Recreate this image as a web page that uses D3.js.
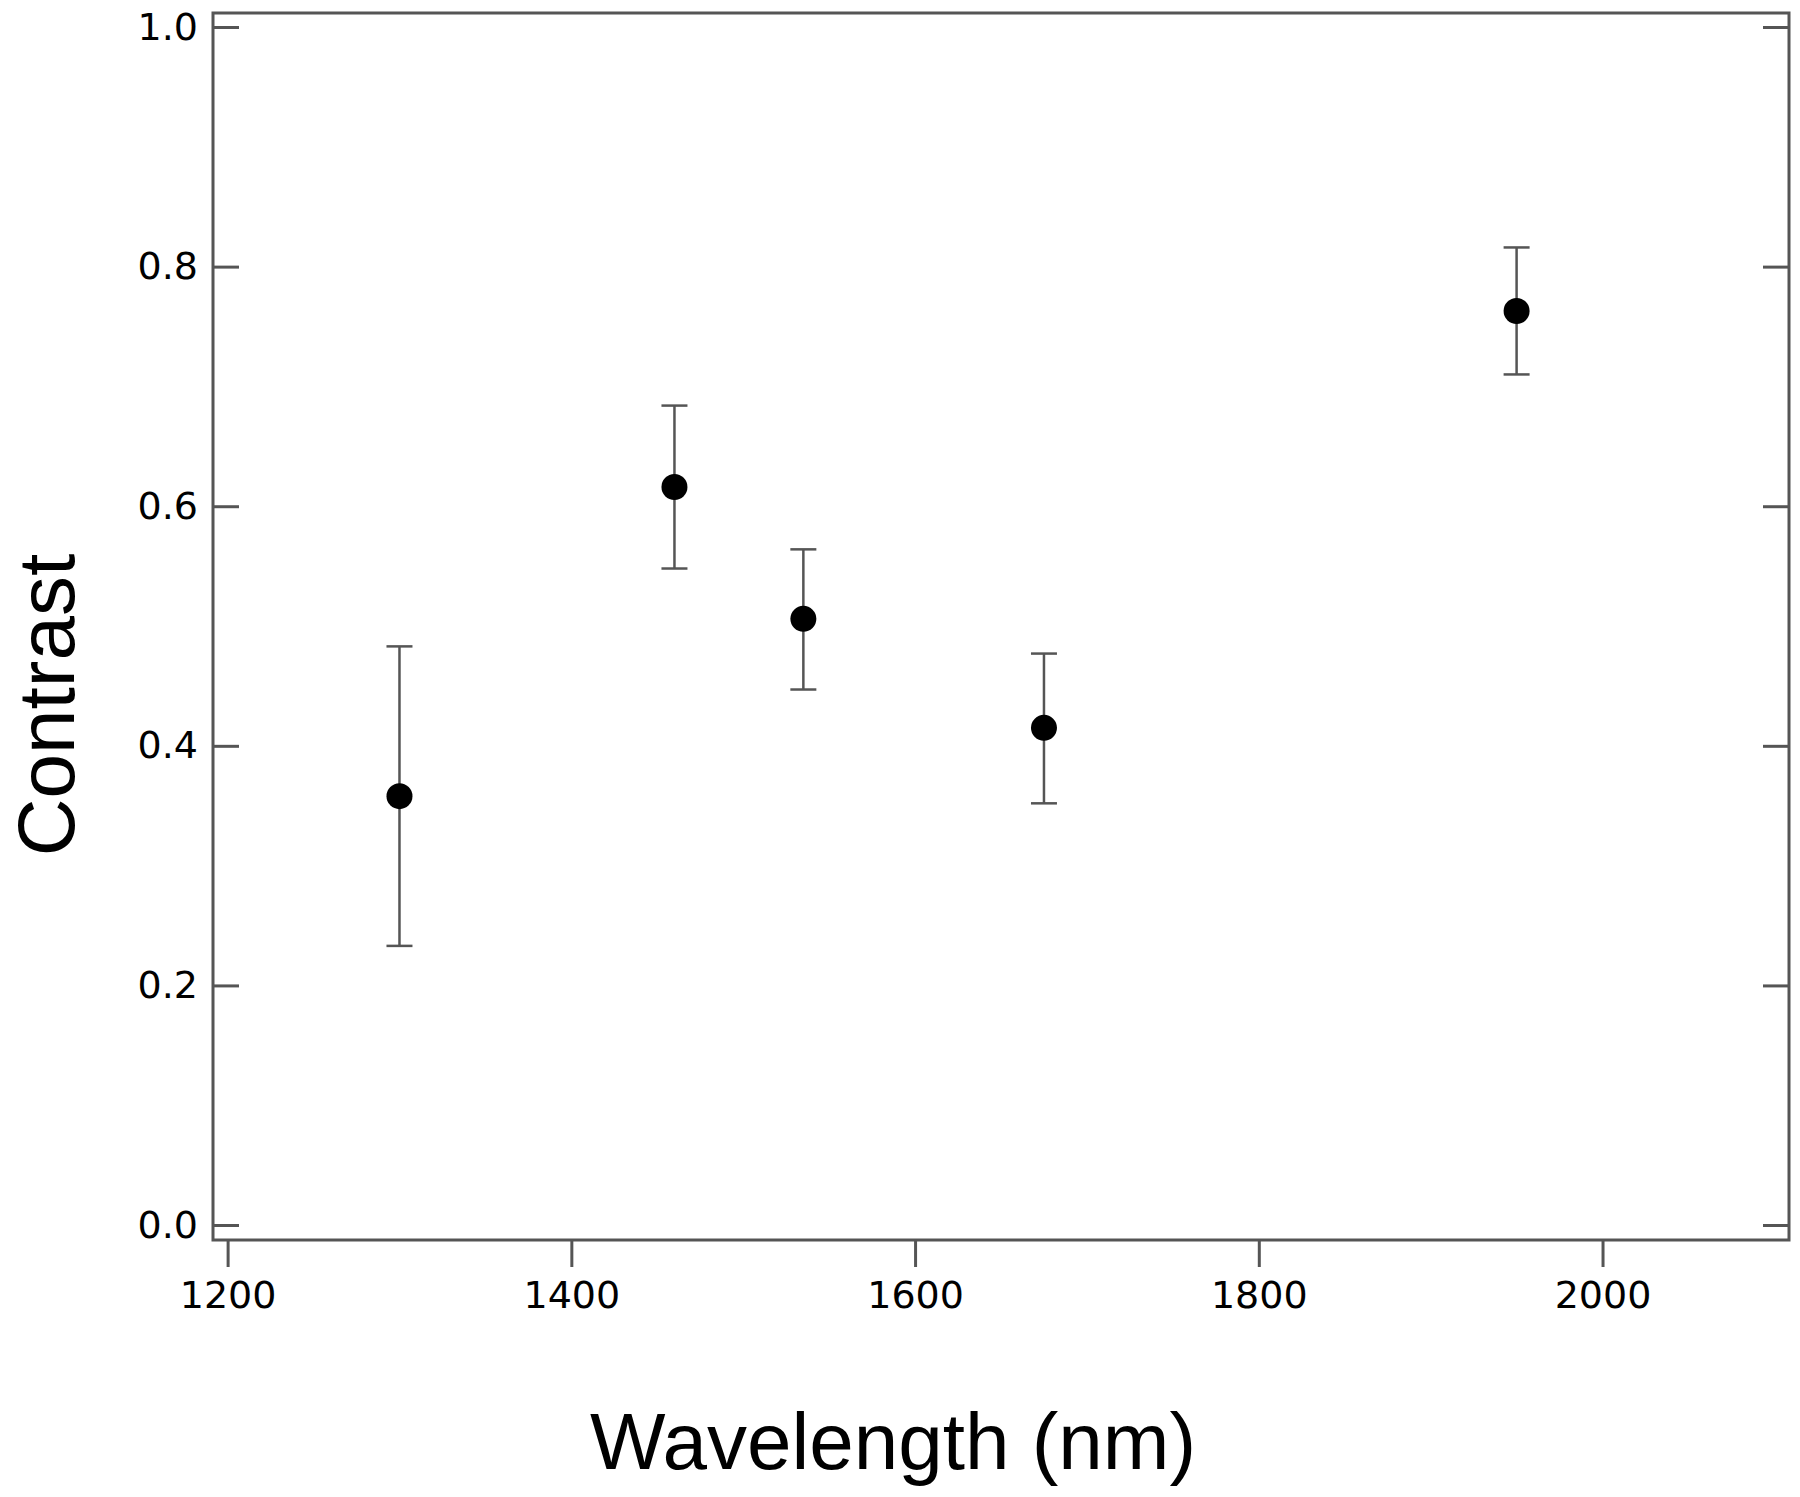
<!doctype html>
<html>
<head>
	<meta charset="utf-8">
	<title>contrast</title>
	<script src="https://cdn.jsdelivr.net/npm/d3@7"></script>
	<style>
		body { margin: 0; background: #fff; }
		.axis path, .axis line { stroke: #555; stroke-width: 3; }
		.axis text { font-family: "DejaVu Sans", sans-serif; font-size: 38px; fill: #000; }
		.title { font-family: "Liberation Sans", Arial, sans-serif; font-size: 80px; fill: #000; }
	</style>
</head>
<body>
<script>
	// data
	var wavelength = [1300, 1460, 1535, 1675, 1950]
	var contrast = [0.358, 0.616, 0.506, 0.415, 0.763]
	var errHigh = [0.483, 0.684, 0.564, 0.477, 0.816]
	var errLow = [0.233, 0.548, 0.447, 0.352, 0.710]
	var xTicks = [1200, 1400, 1600, 1800, 2000]
	var yTicks = [0.0, 0.2, 0.4, 0.6, 0.8, 1.0]

	var width = 1800
	var height = 1497
	// plot frame (window.top is reserved, so no plain "top")
	var plotLeft = 213, plotRight = 1789, plotTop = 13, plotBottom = 1240

	var svg = d3.select("body")
		.append("svg")
		.attr("width", width)
		.attr("height", height)

	var x = d3.scaleLinear()
		.domain([1191.5, 2108.5])
		.range([plotLeft, plotRight])
	var y = d3.scaleLinear()
		.domain([-0.0125, 1.0117])
		.range([plotBottom, plotTop])

	// frame
	svg.append("rect")
		.attr("x", plotLeft)
		.attr("y", plotTop)
		.attr("width", plotRight - plotLeft)
		.attr("height", plotBottom - plotTop)
		.attr("fill", "none")
		.attr("stroke", "#555")
		.attr("stroke-width", 3)

	var yAxis = svg.append("g")
		.attr("class", "axis")
		.attr("transform", "translate(" + plotLeft + ",0)")
		.call(d3.axisLeft(y).tickValues(yTicks).tickSize(-26).tickPadding(15)
			.tickFormat(d3.format(".1f")))
	yAxis.select(".domain").remove()

	var yAxisR = svg.append("g")
		.attr("class", "axis")
		.attr("transform", "translate(" + plotRight + ",0)")
		.call(d3.axisRight(y).tickValues(yTicks).tickSize(-26).tickFormat(""))
	yAxisR.select(".domain").remove()

	var xAxis = svg.append("g")
		.attr("class", "axis")
		.attr("transform", "translate(0," + plotBottom + ")")
		.call(d3.axisBottom(x).tickValues(xTicks).tickSize(27).tickPadding(14)
			.tickFormat(d3.format("d")))
	xAxis.select(".domain").remove()

	// error bars
	var bars = svg.selectAll("g.err")
		.data(wavelength)
		.enter()
		.append("g")
		.attr("class", "err")
		.attr("stroke", "#555")
		.attr("stroke-width", 2.5)

	bars.append("line")
		.attr("x1", function(d) { return x(d) })
		.attr("x2", function(d) { return x(d) })
		.attr("y1", function(d, i) { return y(errLow[i]) })
		.attr("y2", function(d, i) { return y(errHigh[i]) })
	bars.append("line")
		.attr("x1", function(d) { return x(d) - 13 })
		.attr("x2", function(d) { return x(d) + 13 })
		.attr("y1", function(d, i) { return y(errHigh[i]) })
		.attr("y2", function(d, i) { return y(errHigh[i]) })
	bars.append("line")
		.attr("x1", function(d) { return x(d) - 13 })
		.attr("x2", function(d) { return x(d) + 13 })
		.attr("y1", function(d, i) { return y(errLow[i]) })
		.attr("y2", function(d, i) { return y(errLow[i]) })

	// markers
	svg.selectAll("circle")
		.data(wavelength)
		.enter()
		.append("circle")
		.attr("cx", function(d) { return x(d) })
		.attr("cy", function(d, i) { return y(contrast[i]) })
		.attr("r", 13)
		.attr("fill", "#000")

	// titles
	svg.append("text")
		.attr("class", "title")
		.attr("x", 893)
		.attr("y", 1469)
		.attr("text-anchor", "middle")
		.text("Wavelength (nm)")

	svg.append("text")
		.attr("class", "title")
		.attr("transform", "translate(74,705) rotate(-90)")
		.attr("text-anchor", "middle")
		.text("Contrast")
</script>
</body>
</html>
